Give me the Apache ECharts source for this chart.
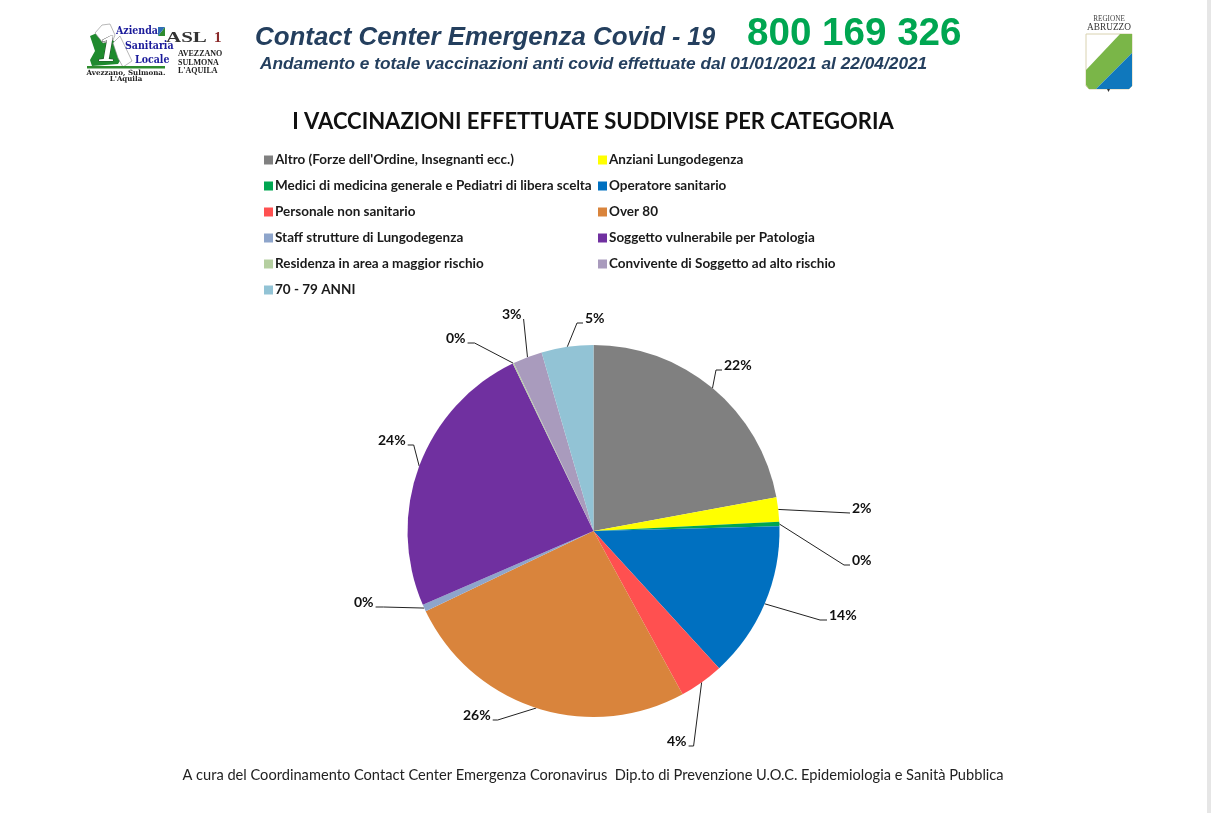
<!DOCTYPE html>
<html><head><meta charset="utf-8">
<style>html,body{margin:0;padding:0;background:#fff}#c{width:1211px;height:813px}</style>
<script src="https://cdn.jsdelivr.net/npm/echarts@6/dist/echarts.min.js"></script>
</head><body><div id="c"></div>
<script>
const categories = ["Altro (Forze dell'Ordine, Insegnanti ecc.)","Anziani Lungodegenza","Medici di medicina generale e Pediatri di libera scelta","Operatore sanitario","Personale non sanitario","Over 80","Staff strutture di Lungodegenza","Soggetto vulnerabile per Patologia","Residenza in area a maggior rischio","Convivente di Soggetto ad alto rischio","70 - 79 ANNI"];
const values = [22.1,2.1,0.4,13.6,3.85,25.85,0.6,24.35,0.1,2.55,4.5];
const percentLabels = ["22%","2%","0%","14%","4%","26%","0%","24%","0%","3%","5%"];
const colors = ["#808080","#FFFF00","#00A651","#0070C0","#FF5050","#D9843C","#8EA5CB","#7030A0","#B5CFA0","#A99BBD","#92C3D5"];
const labelAnchors = [[724,365],[852,508],[852,560],[829,615],[667,741],[463,715],[354,602],[378,440],[446,338],[502,314],[585,318]];
const leaderOnLeft = [true,true,true,true,false,false,false,false,false,false,true];
const leaderStub = [6,0,6,7,5,5,8,6,7,0,6];

const leftCol = categories.filter((_, i) => i % 2 === 0);
const rightCol = categories.filter((_, i) => i % 2 === 1);
const legendBase = {orient:'vertical',itemWidth:9,itemHeight:9,itemGap:12,selectedMode:false,icon:'rect',
  textStyle:{fontFamily:'Lato',fontWeight:'bold',fontSize:13.5,color:'#1a1a1a',padding:[0,0,0,-3],lineHeight:14}};

const chart = echarts.init(document.getElementById('c'),null,{renderer:'canvas'});
chart.setOption({
  animation:false,
  backgroundColor:'#fff',
  color:colors,
  legend:[
    Object.assign({},legendBase,{data:leftCol,left:259,top:148}),
    Object.assign({},legendBase,{data:rightCol,left:593,top:148})
  ],
  series:[{
    type:'pie',center:[593.5,531],radius:[0,186],startAngle:90,clockwise:true,
    minShowLabelAngle:0,avoidLabelOverlap:false,
    data:categories.map((n,i)=>({name:n,value:values[i]})),
    label:{show:true,position:'outside',formatter:p=>percentLabels[p.dataIndex],
      fontFamily:'Lato',fontWeight:'bold',fontSize:14,color:'#111'},
    labelLine:{show:true,length:10,length2:10,smooth:false,lineStyle:{color:'#222',width:1}},
    labelLayout:p=>{
      const i=p.dataIndex, a=labelAnchors[i], w=p.labelRect.width;
      const side=leaderOnLeft[i]?-1:1;
      const endX=leaderOnLeft[i]?a[0]-2:a[0]+w+2, y=a[1]+5;
      return {x:a[0],y:a[1],align:'left',verticalAlign:'middle',
        labelLinePoints:[p.labelLinePoints[0],[endX+side*leaderStub[i],y],[endX,y]]};
    },
    itemStyle:{borderWidth:0},
    emphasis:{disabled:true}
  }],
  graphic:[
    {type:'rect',shape:{x:1207,y:0,width:4,height:813},style:{fill:'#e6e6e6'},silent:true},
    {type:'text',style:{x:255,y:38,text:'Contact Center Emergenza Covid',fill:'#243f5e',font:'italic bold 25.9px "Liberation Sans"',textVerticalAlign:'middle'}},
    {type:'text',style:{x:672,y:38,text:'- 19',fill:'#243f5e',font:'italic bold 25px "Liberation Sans"',textVerticalAlign:'middle'}},
    {type:'text',style:{x:747,y:34,text:'800 169 326',fill:'#00A651',font:'bold 38.6px "Liberation Sans"',textVerticalAlign:'middle'}},
    {type:'text',style:{x:260,y:64,text:'Andamento e totale vaccinazioni anti covid effettuate dal 01/01/2021 al 22/04/2021',fill:'#243f5e',font:'italic bold 17.3px "Liberation Sans"',textVerticalAlign:'middle'}},
    {type:'text',style:{x:593,y:122,text:'I VACCINAZIONI EFFETTUATE SUDDIVISE PER CATEGORIA',fill:'#111',font:'bold 22px Lato',textAlign:'center',textVerticalAlign:'middle'}},
    {type:'text',style:{x:593,y:775,text:'A cura del Coordinamento Contact Center Emergenza Coronavirus  Dip.to di Prevenzione U.O.C. Epidemiologia e Sanità Pubblica',fill:'#222',font:'14.64px Lato',textAlign:'center',textVerticalAlign:'middle'}},
    // ASL logo
    {type:'polygon',shape:{points:[[90,36],[97,33],[103,43],[113,40],[123,56],[118,64],[92,66],[90,60],[95,51]]},style:{fill:'#1f8a2e'}},
    {type:'polygon',shape:{points:[[95,33],[102,25],[110,24],[115,35],[113,40],[103,43]]},style:{fill:'#fff',stroke:'#888',lineWidth:0.6}},
    {type:'polygon',shape:{points:[[113,43],[120,36],[132,61],[123,67],[118,58]]},style:{fill:'#fff',stroke:'#888',lineWidth:0.6}},
    {type:'text',style:{x:98,y:51,text:'1',fill:'#fff',stroke:'#222',lineWidth:0.7,font:'italic bold 38px "Liberation Serif"',textVerticalAlign:'middle'}},
    {type:'rect',shape:{x:87,y:66,width:78,height:2.5},style:{fill:'#2e8b2e'}},
    {type:'text',style:{x:116,y:31,text:'Azienda',fill:'#1a1a9a',font:'bold 10.5px "DejaVu Serif Condensed"',textVerticalAlign:'middle'}},
    {type:'text',style:{x:125,y:46,text:'Sanitaria',fill:'#1a1a9a',font:'bold 10.5px "DejaVu Serif Condensed"',textVerticalAlign:'middle'}},
    {type:'text',style:{x:135,y:60,text:'Locale',fill:'#1a1a9a',font:'bold 10.5px "DejaVu Serif Condensed"',textVerticalAlign:'middle'}},
    {type:'text',style:{x:126,y:73,text:'Avezzano, Sulmona.',fill:'#222',font:'bold 7.1px "DejaVu Serif"',textAlign:'center',textVerticalAlign:'middle'}},
    {type:'text',style:{x:126,y:79,text:"L'Aquila",fill:'#222',font:'bold 7px "DejaVu Serif"',textAlign:'center',textVerticalAlign:'middle'}},
    {type:'polygon',shape:{points:[[165,27],[158,36],[165,36]]},style:{fill:'#2e8b2e'}},
    {type:'polygon',shape:{points:[[158,27],[165,27],[158,36]]},style:{fill:'#2f6fb5'}},
    {type:'text',x:166,y:38,scaleX:1.4,style:{x:0,y:0,text:'ASL',fill:'#333',font:'bold 15px "Liberation Serif"',textVerticalAlign:'middle'}},
    {type:'text',style:{x:214,y:38,text:'1',fill:'#8a2a2a',font:'bold 15px "Liberation Serif"',textVerticalAlign:'middle'}},
    {type:'text',style:{x:178,y:54,text:'AVEZZANO',fill:'#222',font:'bold 8px "Liberation Serif"',textVerticalAlign:'middle'}},
    {type:'text',style:{x:178,y:62.5,text:'SULMONA',fill:'#222',font:'bold 8px "Liberation Serif"',textVerticalAlign:'middle'}},
    {type:'text',style:{x:178,y:71,text:"L'AQUILA",fill:'#222',font:'bold 8px "Liberation Serif"',textVerticalAlign:'middle'}},
    // Regione Abruzzo crest
    {type:'text',style:{x:1109,y:19,text:'REGIONE',fill:'#444',font:'7.2px "Liberation Serif"',textAlign:'center',textVerticalAlign:'middle'}},
    {type:'text',style:{x:1109,y:27.5,text:'ABRUZZO',fill:'#333',font:'9.3px "Liberation Serif"',textAlign:'center',textVerticalAlign:'middle'}},
    {type:'polygon',shape:{points:[[1086,34],[1132,34],[1132,86],[1129,89],[1089,89],[1086,86]]},style:{fill:'#fff',stroke:'#d9d2b0',lineWidth:1}},
    {type:'polygon',shape:{points:[[1120,34],[1132,34],[1132,53],[1096,89],[1089,89],[1086,85],[1086,70]]},style:{fill:'#7ab648'}},
    {type:'polygon',shape:{points:[[1132,53],[1132,86],[1129,89],[1096,89]]},style:{fill:'#0f78bd'}},
    {type:'polygon',shape:{points:[[1107,89],[1110,89],[1108.5,92]]},style:{fill:'#333'}}
  ]
});
</script></body></html>
